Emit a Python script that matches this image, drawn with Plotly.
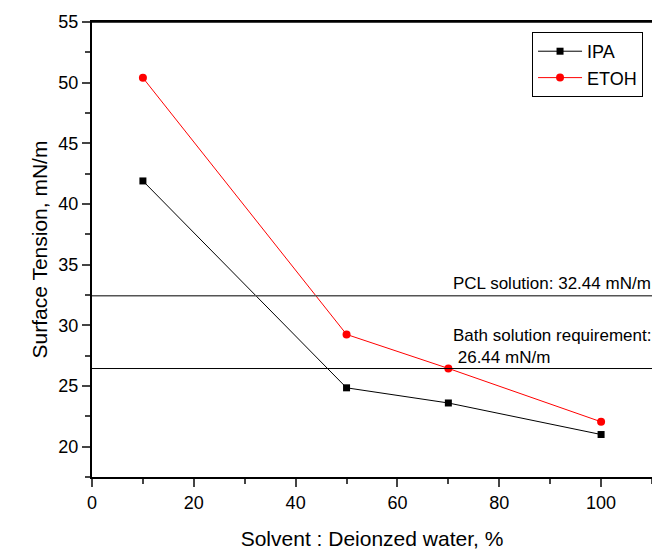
import plotly.graph_objects as go

x_vals = [10, 50, 70, 100]
ipa = [41.9, 24.85, 23.6, 21.0]
etoh = [50.4, 29.25, 26.45, 22.05]
pcl_level = 32.44
bath_level = 26.44
x_ticks = [0, 20, 40, 60, 80, 100]
y_ticks = [20, 25, 30, 35, 40, 45, 50, 55]

FONT = "Liberation Sans, Arial, sans-serif"

fig = go.Figure()
fig.add_trace(go.Scatter(x=x_vals, y=ipa, mode="lines+markers", name="IPA",
                         line=dict(color="black", width=1),
                         marker=dict(symbol="square", size=7, color="black")))
fig.add_trace(go.Scatter(x=x_vals, y=etoh, mode="lines+markers", name="ETOH",
                         line=dict(color="red", width=1),
                         marker=dict(symbol="circle", size=8, color="red")))

fig.add_shape(type="line", xref="x", yref="y", x0=0, x1=110, y0=pcl_level, y1=pcl_level,
              line=dict(color="#555555", width=1.5))
fig.add_shape(type="line", xref="x", yref="y", x0=0, x1=110, y0=bath_level, y1=bath_level,
              line=dict(color="black", width=1))

fig.add_annotation(x=70.6, y=pcl_level, xref="x", yref="y", text="PCL solution: 32.44 mN/m",
                   showarrow=False, xanchor="left", yanchor="bottom", yshift=1,
                   font=dict(family=FONT, size=17, color="black"), align="left")
fig.add_annotation(x=70.6, y=bath_level, xref="x", yref="y",
                   text="Bath solution requirement:<br> 26.44 mN/m",
                   showarrow=False, xanchor="left", yanchor="bottom", yshift=0,
                   font=dict(family=FONT, size=17, color="black"), align="left")

fig.update_layout(
    width=652, height=551,
    margin=dict(l=92, r=0, t=22, b=74),
    paper_bgcolor="white", plot_bgcolor="white",
    font=dict(family=FONT, size=18, color="black"),
    showlegend=True,
    legend=dict(x=0.984, y=0.978, xanchor="right", yanchor="top",
                bordercolor="black", borderwidth=1, bgcolor="white",
                font=dict(family=FONT, size=18), tracegroupgap=0,
                itemwidth=44),
)
fig.update_xaxes(range=[0, 110], tickvals=x_ticks, ticks="outside", ticklen=8, tickwidth=1.5,
                 showline=True, linecolor="black", linewidth=2, mirror=True,
                 showgrid=False, zeroline=False,
                 minor=dict(dtick=10, tick0=0, ticks="outside", ticklen=5, tickwidth=1.5, showgrid=False),
                 title=dict(text="Solvent : Deionzed water, %", font=dict(family=FONT, size=21), standoff=20),
                 tickfont=dict(family=FONT, size=18))
fig.update_yaxes(range=[17.5, 55], tickvals=y_ticks, ticks="outside", ticklen=8, tickwidth=1.5,
                 showline=True, linecolor="black", linewidth=2, mirror=False,
                 showgrid=False, zeroline=False,
                 minor=dict(dtick=2.5, tick0=0, ticks="outside", ticklen=5, tickwidth=1.5, showgrid=False),
                 title=dict(text="Surface Tension, mN/m", font=dict(family=FONT, size=21), standoff=5),
                 tickfont=dict(family=FONT, size=18))
# top border line
fig.add_shape(type="line", xref="paper", yref="paper", x0=0, x1=1, y0=1, y1=1,
              line=dict(color="black", width=1.5))

fig.write_html("out.html", config={"displayModeBar": False},
               post_script="document.body.style.margin='0';document.body.style.overflow='hidden';")
